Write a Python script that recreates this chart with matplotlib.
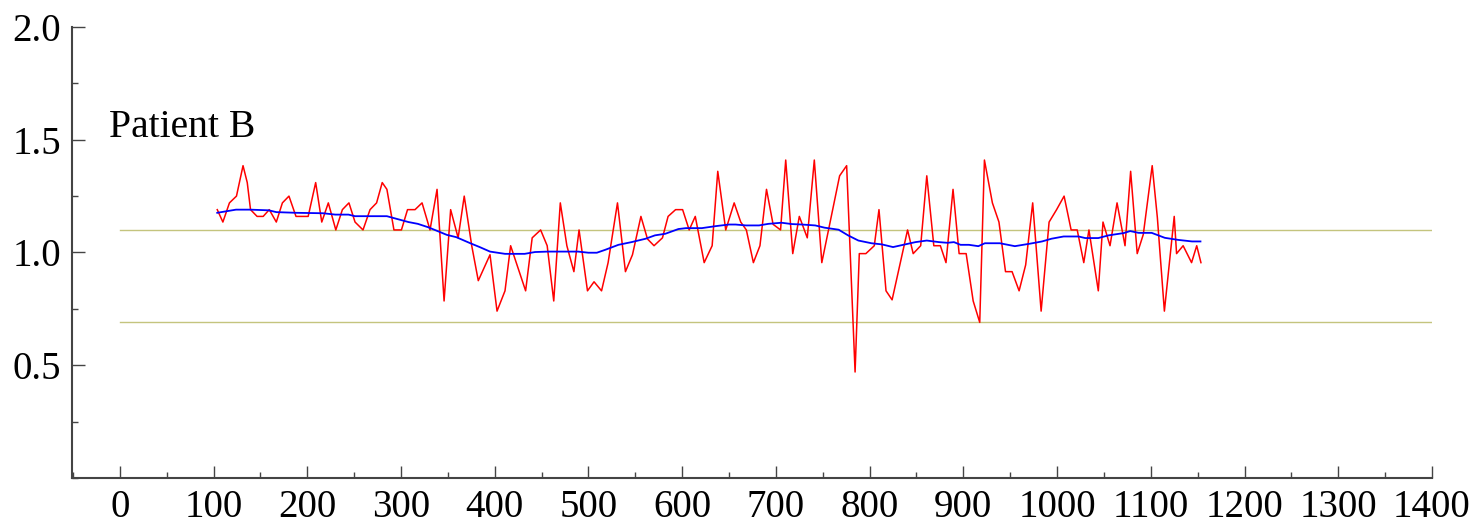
import numpy as np
import matplotlib
matplotlib.use('Agg')
import matplotlib.pyplot as plt
from matplotlib.ticker import MultipleLocator

# dados
x_red = [104, 110, 117, 124.5, 131.5, 136, 139.5, 146.5, 153, 159.5, 167, 173.5, 180.5, 188, 194.5,
         201, 209, 215.5, 222.5, 230.5, 237.5, 244.5, 251, 259.5, 267, 274, 280, 285, 292.5, 300.5,
         307, 315, 322.5, 331, 338.5, 346, 353, 361, 367.5, 375.5, 382.5, 395, 402.5, 411, 417,
         433, 440, 449, 456, 463, 470, 477, 484.5, 490, 499, 506, 514, 521, 531, 539.5,
         547, 556, 563, 570, 579, 585, 593, 600.5, 607.5, 614, 623.5, 632, 638, 646.5, 655.5,
         662.5, 668.5, 676, 683, 690, 697, 705, 710.5, 718, 725, 733.5, 741, 749, 768, 775.5,
         784.5, 789, 796, 805, 810, 817.5, 824, 840.5, 846.5, 854.5, 861, 868.5, 875.5, 881.5, 889,
         895.5, 903, 910.5, 917.5, 922.5, 931, 938, 945, 952, 959.5, 966.5, 974, 983, 991.5, 999.5,
         1007.5, 1015, 1021.5, 1028.5, 1034, 1044, 1049, 1056.5, 1064, 1072.5, 1078.5, 1085.5, 1092,
         1101.5, 1107, 1114.5, 1125, 1127.5, 1134.5, 1143.5, 1149, 1153.5]
y_red = [1.19, 1.135, 1.22, 1.25, 1.385, 1.31, 1.19, 1.16, 1.16, 1.19, 1.135, 1.22, 1.25, 1.16, 1.16,
         1.16, 1.31, 1.135, 1.22, 1.10, 1.19, 1.22, 1.135, 1.10, 1.19, 1.22, 1.31, 1.28, 1.10, 1.10,
         1.19, 1.19, 1.22, 1.10, 1.28, 0.785, 1.19, 1.065, 1.25, 1.03, 0.875, 0.99, 0.74, 0.83, 1.03,
         0.83, 1.065, 1.10, 1.03, 0.785, 1.22, 1.03, 0.915, 1.10, 0.83, 0.87, 0.83, 0.955, 1.22, 0.915,
         0.99, 1.16, 1.06, 1.03, 1.065, 1.16, 1.19, 1.19, 1.10, 1.16, 0.955, 1.03, 1.36, 1.10, 1.22,
         1.135, 1.10, 0.955, 1.03, 1.28, 1.125, 1.10, 1.41, 0.995, 1.16, 1.065, 1.41, 0.955, 1.34, 1.385,
         0.47, 0.995, 0.995, 1.03, 1.19, 0.83, 0.79, 1.10, 0.995, 1.03, 1.34, 1.03, 1.03, 0.955, 1.28,
         0.995, 0.995, 0.785, 0.69, 1.41, 1.22, 1.135, 0.915, 0.915, 0.83, 0.945, 1.22, 0.74, 1.135, 1.19,
         1.25, 1.10, 1.10, 0.955, 1.10, 0.83, 1.135, 1.03, 1.22, 1.03, 1.36, 0.995, 1.08,
         1.385, 1.155, 0.74, 1.16, 0.995, 1.03, 0.955, 1.03, 0.955]

x_blue = [104, 124, 139, 159, 167, 188, 217, 230, 244, 251, 285, 292, 308, 318, 329, 342, 349, 359,
          374, 384, 395, 411, 432, 443, 457, 489, 500, 509, 518, 532, 546, 561, 571, 582, 596, 604,
          621, 636, 650, 657, 668, 682, 692, 706, 717, 728, 742, 752, 767, 777, 788, 802, 813, 825,
          838, 849, 861, 874, 883, 890, 897, 906, 916, 923, 939, 955, 971, 984, 994, 1007, 1023,
          1030, 1044, 1055, 1071, 1078, 1087, 1101, 1115, 1129, 1144, 1153]
y_blue = [1.176, 1.19, 1.19, 1.187, 1.179, 1.176, 1.174, 1.168, 1.168, 1.161, 1.161, 1.153, 1.135,
          1.127, 1.112, 1.09, 1.078, 1.068, 1.041, 1.024, 1.004, 0.994, 0.994, 1.002, 1.004, 1.004,
          0.999, 0.999, 1.012, 1.034, 1.046, 1.061, 1.076, 1.083, 1.104, 1.108, 1.108, 1.117, 1.124,
          1.124, 1.12, 1.12, 1.127, 1.132, 1.126, 1.124, 1.12, 1.11, 1.101, 1.076, 1.053, 1.041, 1.036,
          1.024, 1.036, 1.046, 1.053, 1.046, 1.043, 1.046, 1.034, 1.034, 1.028, 1.041, 1.041, 1.028,
          1.039, 1.049, 1.061, 1.071, 1.071, 1.064, 1.064, 1.076, 1.086, 1.095, 1.087, 1.087, 1.065,
          1.056, 1.049, 1.049]

limites = [1.10, 0.69]
x_ticks = list(range(0, 1401, 100))
y_ticks = [0.5, 1.0, 1.5, 2.0]

plt.rcParams['font.family'] = ['Liberation Serif', 'DejaVu Serif']

fig = plt.figure(figsize=(14.81, 5.24), dpi=100)
ax = fig.add_axes([0.0486, 0.0878, 0.9183, 0.8607])

for lim in limites:
    ax.plot([0, 1400], [lim, lim], color='#c4c47e', lw=1.0)

ax.plot(x_red, y_red, color='#ff0000', lw=1.1)
ax.plot(x_blue, y_blue, color='#0000ff', lw=1.3)

ax.text(-11, 1.51, 'Patient B', fontsize=28.5, ha='left', va='baseline')

ax.set_xlim(-51, 1400)
ax.set_ylim(0, 2.0)
ax.set_xticks(x_ticks)
ax.set_yticks(y_ticks)
ax.set_yticklabels(['%.1f' % v for v in y_ticks])
ax.xaxis.set_minor_locator(MultipleLocator(50))
ax.yaxis.set_minor_locator(MultipleLocator(0.25))

for s in ['top', 'right']:
    ax.spines[s].set_visible(False)
for s in ['left', 'bottom']:
    ax.spines[s].set_color('#444444')
    ax.spines[s].set_linewidth(1.5)

ax.tick_params(which='major', direction='in', length=9, width=1, color='#444444',
               labelsize=28, pad=8)
ax.tick_params(which='minor', direction='in', length=4.5, width=1, color='#444444')

fig.savefig('out.png', dpi=100)
